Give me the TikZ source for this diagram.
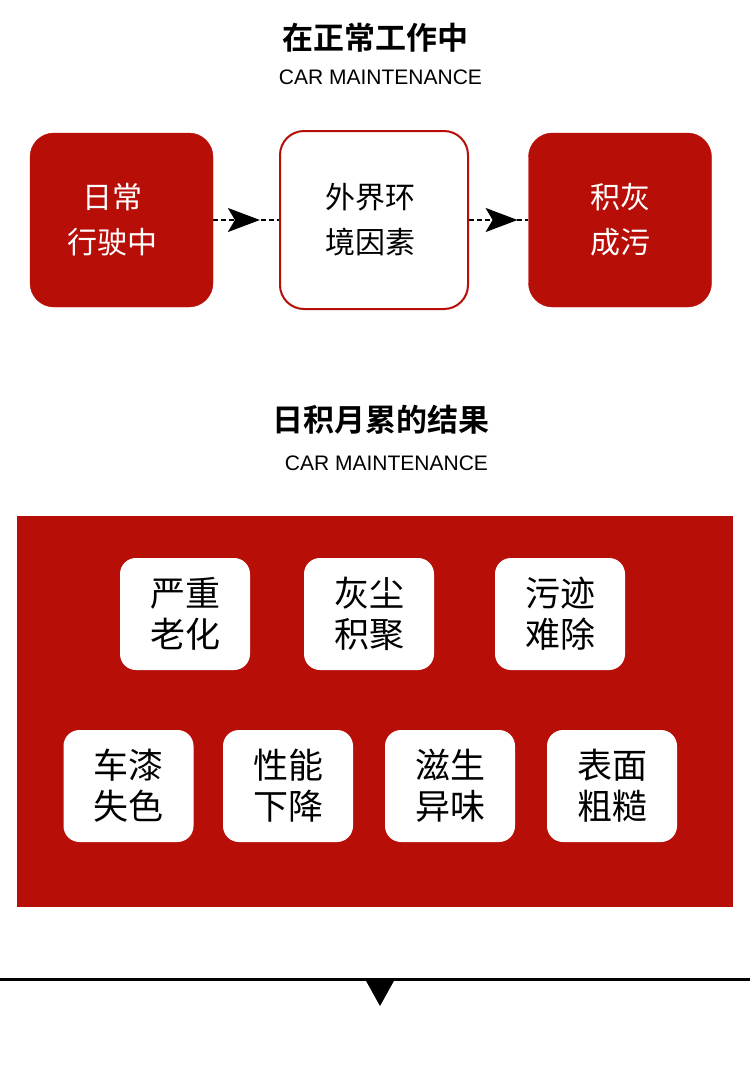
\documentclass[tikz,border=0pt]{standalone}
\usepackage{fontspec}
\setmainfont{Liberation Sans}
\newfontfamily\cjk{Noto Sans CJK SC}
\newfontfamily\cjkb{Noto Sans CJK SC Bold}
\usetikzlibrary{arrows.meta,decorations.markings}
\definecolor{carred}{RGB}{184,14,8}
\begin{document}
\begin{tikzpicture}[x=1pt,y=-1pt,
  title/.style={font=\cjkb\fontsize{31}{36}\selectfont, inner sep=0pt},
  sub/.style={font=\fontsize{21}{24}\selectfont, inner sep=0pt},
  redbox/.style={fill=carred, draw=carred, rounded corners=24pt, minimum width=183pt, minimum height=174pt, inner sep=0pt},
  whitebox/.style={fill=white, draw=carred, line width=2pt, rounded corners=24pt, minimum width=188pt, minimum height=178pt, inner sep=0pt},
  boxtext/.style={font=\cjk\fontsize{30}{45}\selectfont, align=center, inner sep=0pt},
  card/.style={fill=white, rounded corners=16pt, minimum width=130pt, minimum height=112pt, inner sep=0pt, font=\cjk\fontsize{35}{41}\selectfont, align=center, text=black},
  flow/.style={dashed, dash pattern=on 5pt off 3pt, line width=1.8pt, postaction={decorate}}
]
\useasboundingbox (0,0) rectangle (750,1071);
\fill[white] (0,0) rectangle (750,1071);

% top section
\node[title] (t1) at (375,38) {在正常工作中};
\node[sub] (s1) at (380.5,77) {CAR MAINTENANCE};

\node[redbox] (b1) at (121.5,220) {};
\node[boxtext, text=white] (b1t) at (112,220) {日常\\行驶中};
\node[whitebox] (b2) at (374,220) {};
\node[boxtext, text=black] (b2t) at (370,220) {外界环\\境因素};
\node[redbox] (b3) at (620,220) {};
\node[boxtext, text=white] (b3t) at (620,220) {积灰\\成污};

\draw[flow, decoration={markings, mark=at position 0.71 with {\arrow{Stealth[length=32pt,width=24pt,inset=7pt]}}}] (b1.east) -- (b2.west);
\draw[flow, decoration={markings, mark=at position 0.82 with {\arrow{Stealth[length=32pt,width=24pt,inset=7pt]}}}] (b2.east) -- (b3.west);

% second section
\node[title] (t2) at (381,420) {日积月累的结果};
\node[sub] (s2) at (386.5,463) {CAR MAINTENANCE};

\node[fill=carred, minimum width=716pt, minimum height=391pt, inner sep=0pt] (panel) at (375,711.5) {};

\node[card] (c1) at (185,614) {严重\\老化};
\node[card] (c2) at (369,614) {灰尘\\积聚};
\node[card] (c3) at (560,614) {污迹\\难除};
\node[card] (c4) at (128.5,786) {车漆\\失色};
\node[card] (c5) at (288,786) {性能\\下降};
\node[card] (c6) at (450,786) {滋生\\异味};
\node[card] (c7) at (612,786) {表面\\粗糙};

% bottom divider
\coordinate (l1) at (0,979);
\coordinate (l2) at (750,979);
\coordinate (ta) at (365,979);
\coordinate (tb) at (395,979);
\coordinate (tc) at (380,1006);
\draw[line width=3pt] (l1) -- (l2);
\fill[black] (ta) -- (tb) -- (tc) -- cycle;
\end{tikzpicture}
\end{document}
